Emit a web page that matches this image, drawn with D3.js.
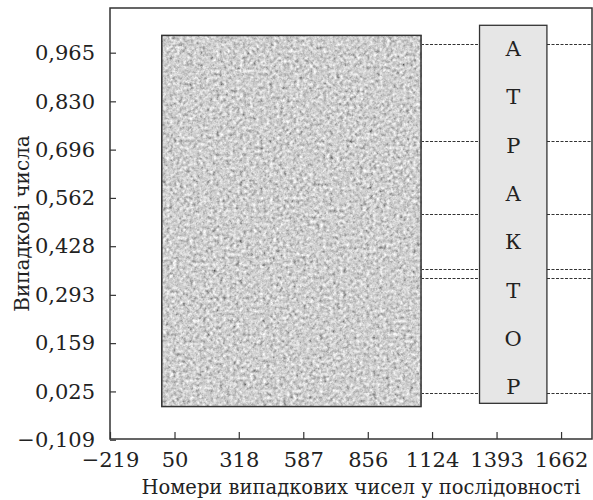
<!DOCTYPE html>
<html>
<head>
<meta charset="utf-8">
<script src="https://cdn.jsdelivr.net/npm/d3@7"></script>
<style>
  body { margin: 0; background: #fff; }
  svg text { font-family: "DejaVu Serif", serif; fill: #222; }
</style>
</head>
<body>
<svg id="chart"></svg>
<script>
"use strict";

// Tick values and their printed labels
const xTicks = [-219, 50, 318, 587, 856, 1124, 1393, 1662];
const xTickLabels = ["−219", "50", "318", "587", "856", "1124", "1393", "1662"];
const yTicks = [-0.109, 0.025, 0.159, 0.293, 0.428, 0.562, 0.696, 0.830, 0.965];
const yTickLabels = ["−0,109", "0,025", "0,159", "0,293", "0,428", "0,562", "0,696", "0,830", "0,965"];

// Extent of the cloud of random numbers (index, value)
const sampleX = [-3, 1078];
const sampleY = [-0.017, 1.013];

// Values the generator falls into (dotted lines)
const attractorLevels = [0.988, 0.720, 0.517, 0.366, 0.341, 0.020];

// Attractor box and its letters
const attractorX = [1322, 1603];
const attractorY = [-0.008, 1.041];
const attractorLetters = ["А", "Т", "Р", "А", "К", "Т", "О", "Р"];
const letterLevels = [0.965, 0.830, 0.696, 0.562, 0.428, 0.293, 0.159, 0.025];

const width = 593, height = 500;
const margin = {top: 8, right: 1, bottom: 61, left: 110};

const svg = d3.select("#chart")
    .attr("width", width)
    .attr("height", height);

const x = d3.scaleLinear()
    .domain([-219, 1791])
    .range([margin.left, width - margin.right]);
const y = d3.scaleLinear()
    .domain([-0.107, 1.089])
    .range([height - margin.bottom, margin.top]);

// Noise texture standing in for the dense cloud of points
const filter = svg.append("defs").append("filter")
    .attr("id", "noise")
    .attr("x", 0).attr("y", 0).attr("width", 1).attr("height", 1)
    .attr("filterUnits", "objectBoundingBox");
filter.append("feTurbulence")
    .attr("type", "fractalNoise")
    .attr("baseFrequency", 0.3)
    .attr("numOctaves", 3)
    .attr("seed", 7);
filter.append("feColorMatrix")
    .attr("type", "matrix")
    .attr("values", "0.33 0.33 0.33 0 0 0.33 0.33 0.33 0 0 0.33 0.33 0.33 0 0 0 0 0 0 1");
const transfer = filter.append("feComponentTransfer");
["feFuncR", "feFuncG", "feFuncB"].forEach((f) => {
    transfer.append(f).attr("type", "linear").attr("slope", 1.8).attr("intercept", -0.27);
});

// Dotted lines from the cloud to the right edge
svg.append("g")
    .selectAll("line")
    .data(attractorLevels)
    .join("line")
    .attr("x1", x(sampleX[1]))
    .attr("x2", x.range()[1])
    .attr("y1", (d) => Math.round(y(d)) + 0.5)
    .attr("y2", (d) => Math.round(y(d)) + 0.5)
    .attr("stroke", "#333")
    .attr("stroke-width", 1)
    .attr("stroke-dasharray", "3,1.5");

// Cloud of random numbers
svg.append("rect")
    .attr("x", x(sampleX[0]))
    .attr("y", y(sampleY[1]))
    .attr("width", x(sampleX[1]) - x(sampleX[0]))
    .attr("height", y(sampleY[0]) - y(sampleY[1]))
    .attr("fill", "#b0b0b0")
    .attr("filter", "url(#noise)");
svg.append("rect")
    .attr("x", x(sampleX[0]))
    .attr("y", y(sampleY[1]))
    .attr("width", x(sampleX[1]) - x(sampleX[0]))
    .attr("height", y(sampleY[0]) - y(sampleY[1]))
    .attr("fill", "none")
    .attr("stroke", "#333")
    .attr("stroke-width", 1.5);

// Attractor box
svg.append("rect")
    .attr("x", x(attractorX[0]))
    .attr("y", y(attractorY[1]))
    .attr("width", x(attractorX[1]) - x(attractorX[0]))
    .attr("height", y(attractorY[0]) - y(attractorY[1]))
    .attr("fill", "#e6e6e6")
    .attr("stroke", "#333")
    .attr("stroke-width", 1.3);

svg.append("g")
    .selectAll("text")
    .data(attractorLetters)
    .join("text")
    .attr("x", (x(attractorX[0]) + x(attractorX[1])) / 2)
    .attr("y", (d, i) => y(letterLevels[i]) + 3)
    .attr("text-anchor", "middle")
    .attr("font-size", 21)
    .text((d) => d);

// Axes with inward ticks
const xAxis = svg.append("g")
    .attr("transform", `translate(0,${y.range()[0]})`)
    .call(d3.axisBottom(x)
        .tickValues(xTicks)
        .tickFormat((d, i) => xTickLabels[i])
        .tickSizeInner(-7)
        .tickSizeOuter(0)
        .tickPadding(13));
const yAxis = svg.append("g")
    .attr("transform", `translate(${x.range()[0]},0)`)
    .call(d3.axisLeft(y)
        .tickValues(yTicks)
        .tickFormat((d, i) => yTickLabels[i])
        .tickSizeInner(-6)
        .tickSizeOuter(0)
        .tickPadding(15));

[xAxis, yAxis].forEach((a) => {
    a.select(".domain").remove();
    a.selectAll(".tick line").attr("stroke", "#333").attr("stroke-width", 1.2);
    a.selectAll(".tick text")
        .attr("font-family", "DejaVu Serif")
        .attr("font-size", 21)
        .attr("fill", "#222");
});

// Plot frame
svg.append("rect")
    .attr("x", x.range()[0])
    .attr("y", y.range()[1])
    .attr("width", x.range()[1] - x.range()[0])
    .attr("height", y.range()[0] - y.range()[1])
    .attr("fill", "none")
    .attr("stroke", "#333")
    .attr("stroke-width", 1.5);

// Axis titles
svg.append("text")
    .attr("x", 361)
    .attr("y", 494)
    .attr("text-anchor", "middle")
    .attr("font-size", 19.5)
    .text("Номери випадкових чисел у послідовності");

svg.append("text")
    .attr("transform", `translate(29,${(y.range()[0] + y.range()[1]) / 2}) rotate(-90)`)
    .attr("text-anchor", "middle")
    .attr("font-size", 20)
    .text("Випадкові числа");
</script>
</body>
</html>
